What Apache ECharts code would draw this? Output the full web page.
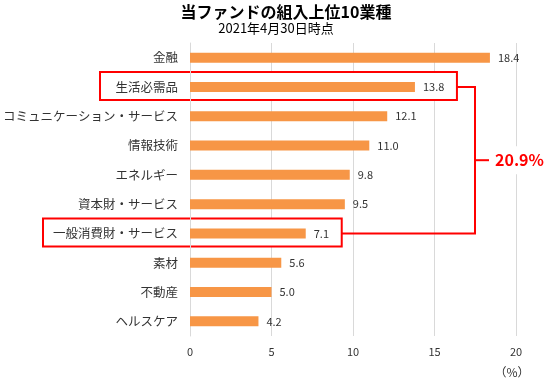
<!DOCTYPE html>
<html><head><meta charset="utf-8">
<script src="https://cdn.jsdelivr.net/npm/echarts@6/dist/echarts.min.js"></script>
<style>html,body{margin:0;padding:0;background:#fff}#c{width:546px;height:387px}</style>
</head><body><div id="c"></div>
<script>
const categories = ['金融','生活必需品','コミュニケーション・サービス','情報技術','エネルギー','資本財・サービス','一般消費財・サービス','素材','不動産','ヘルスケア'];
const values = [18.4,13.8,12.1,11.0,9.8,9.5,7.1,5.6,5.0,4.2];
const xTicks = [0,5,10,15,20];
const titleText = '当ファンドの組入上位10業種';
const subText = '2021年4月30日時点';
const totalText = '20.9%';
const unitText = '（%）';

const FONT = '"Noto Sans CJK JP", "Noto Sans", sans-serif';
const chart = echarts.init(document.getElementById('c'));
const option = {
  animation: false,
  textStyle: {fontFamily: FONT},
  title: [
    {text: titleText, left: 281, top: -1, textAlign: 'center',
     textStyle: {fontSize: 16, fontWeight: 'bold', color: '#000', fontFamily: FONT}},
    {text: subText, left: 271, top: 17, textAlign: 'center',
     textStyle: {fontSize: 13, fontWeight: 'normal', color: '#000', fontFamily: FONT}}
  ],
  grid: {left: 190, right: 30, top: 43, bottom: 51, containLabel: false},
  xAxis: {
    type: 'value', min: xTicks[0], max: xTicks[xTicks.length-1], interval: 5, z: 0,
    axisLine: {show: false}, axisTick: {show: false},
    splitLine: {show: true, lineStyle: {color: '#d9d9d9', width: 1}},
    axisLabel: {margin: 10, fontSize: 11, color: '#333', fontFamily: FONT}
  },
  yAxis: {
    type: 'category', data: categories, inverse: true, z: 3,
    axisLine: {show: true, lineStyle: {color: '#d9d9d9'}}, axisTick: {show: false},
    axisLabel: {margin: 12, fontSize: 12.5, color: '#333', fontFamily: FONT}
  },
  series: [{
    type: 'bar', data: values, barWidth: 10, z: 4,
    itemStyle: {color: '#F79646'},
    label: {show: true, position: 'right', distance: 8, fontSize: 11, color: '#333',
            fontFamily: FONT, formatter: p => p.value.toFixed(1)}
  }]
};
chart.setOption(option);

function px(v){ return chart.convertToPixel({xAxisIndex:0}, v); }
function py(c){ return chart.convertToPixel({yAxisIndex:0}, c); }
const y1 = py(categories[1]), y2 = py(categories[6]);
const r1 = px(values[1]) + 42, r2 = px(values[6]) + 36;
const bx = 475, mid = (y1 + y2) / 2;
const red = '#FF0000';
chart.setOption({
  graphic: [
    {type: 'rect', z: 1, shape: {x: 100, y: y1 - 15, width: r1 - 100, height: 28},
     style: {fill: '#fff', stroke: red, lineWidth: 2}},
    {type: 'rect', z: 1, shape: {x: 43, y: y2 - 15, width: r2 - 43, height: 28},
     style: {fill: '#fff', stroke: red, lineWidth: 2}},
    {type: 'polyline', z: 5, shape: {points: [[r1, y1], [bx, y1], [bx, y2], [r2, y2]]},
     style: {fill: null, stroke: red, lineWidth: 2}},
    {type: 'line', z: 5, shape: {x1: bx, y1: mid, x2: 489, y2: mid},
     style: {stroke: red, lineWidth: 2}},
    {type: 'text', z: 5, x: 493, y: mid,
     style: {text: totalText, fill: red, font: 'bold 16px ' + FONT, textVerticalAlign: 'middle',
             backgroundColor: '#fff', padding: [6, 2, 6, 2]}},
    {type: 'text', z: 5, x: 512, y: 372,
     style: {text: unitText, fill: '#333', font: '12px ' + FONT, textAlign: 'center', textVerticalAlign: 'middle'}}
  ]
});
</script></body></html>
